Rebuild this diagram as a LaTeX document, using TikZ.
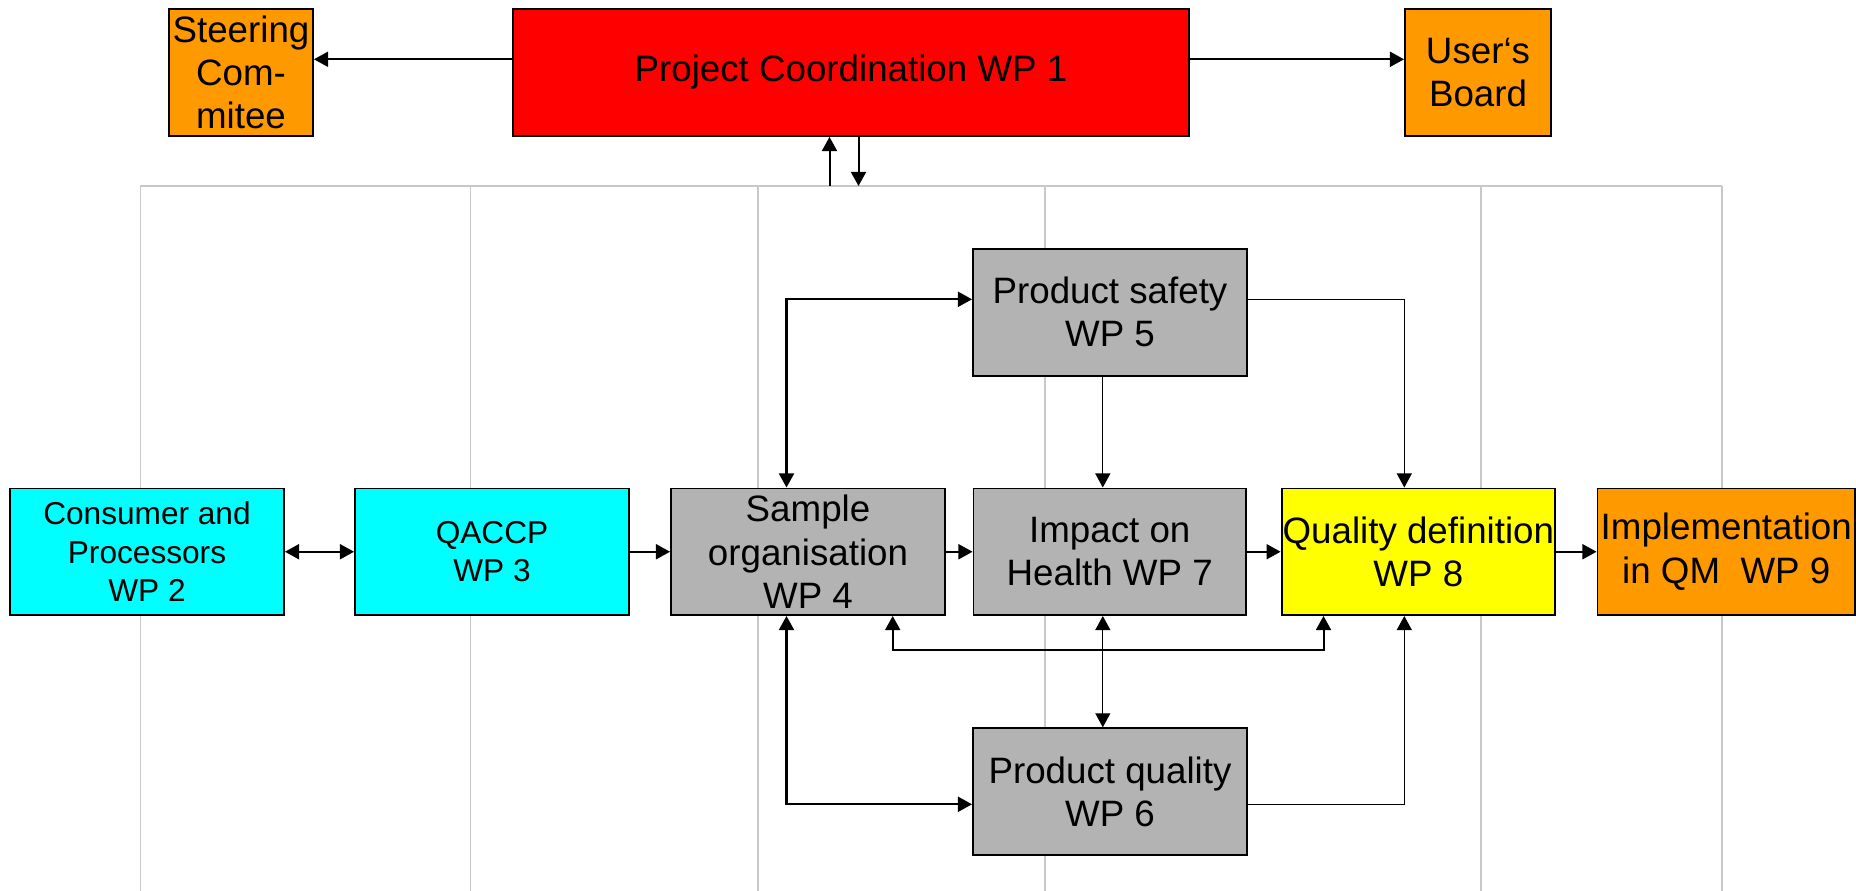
\documentclass[tikz,border=0pt]{standalone}
\usepackage{fontspec}
\setmainfont{Liberation Sans}
\usetikzlibrary{arrows.meta}
\definecolor{wporange}{RGB}{255,153,0}
\definecolor{wpgray}{RGB}{179,179,179}
\definecolor{wpcyan}{RGB}{0,255,255}
\definecolor{wpyellow}{RGB}{255,255,0}
\definecolor{wpred}{RGB}{255,0,0}
\definecolor{gridgray}{RGB}{200,200,200}
\begin{document}
\begin{tikzpicture}[>={Triangle[length=8pt,width=8.5pt]},
	wp/.style={draw=black, line width=1.1pt, inner sep=0pt, align=center, font=\fontsize{20.9}{24.6}\selectfont},
	wpsmall/.style={wp, font=\fontsize{18}{21.8}\selectfont},
	arr/.style={line width=1.15pt, ->},
	arrthin/.style={line width=0.75pt, ->},
	gridline/.style={gridgray, line width=0.9pt}]
	\useasboundingbox (0,0) rectangle (37.12,-17.82);

%grid
	\draw[gridline] (2.808,-3.72) -- (34.44,-3.72);
	\foreach \x in {2.808, 9.41, 15.156, 20.9, 29.62, 34.44}{
		\draw[gridline] (\x,-3.72) -- (\x,-17.82);
	}

%top row
	\node[wp, fill=wporange, minimum width=2.88cm, minimum height=2.54cm] (steer) at (4.82,-1.45) {Steering\\Com-\\mitee};
	\node[wp, fill=wpred, minimum width=13.52cm, minimum height=2.54cm] (coord) at (17.02,-1.45) {Project Coordination WP 1};
	\node[wp, fill=wporange, minimum width=2.92cm, minimum height=2.54cm] (users) at (29.56,-1.45) {User‘s\\Board};

%middle row
	\node[wpsmall, fill=wpcyan, minimum width=5.48cm, minimum height=2.53cm] (consumer) at (2.94,-11.035) {Consumer and\\Processors\\WP 2};
	\node[wpsmall, fill=wpcyan, minimum width=5.48cm, minimum height=2.53cm] (qaccp) at (9.84,-11.035) {QACCP\\WP 3};
	\node[wp, fill=wpgray, minimum width=5.48cm, minimum height=2.53cm] (sample) at (16.16,-11.035) {Sample\\organisation\\WP 4};
	\node[wp, fill=wpgray, minimum width=5.45cm, minimum height=2.53cm] (impact) at (22.195,-11.035) {Impact on\\Health WP 7};
	\node[wp, fill=wpyellow, minimum width=5.47cm, minimum height=2.53cm] (qualdef) at (28.367,-11.035) {Quality definition\\WP 8};
	\node[wp, fill=wporange, minimum width=5.15cm, minimum height=2.53cm] (implem) at (34.525,-11.035) {Implementation\\in QM~~WP 9};

%safety, quality
	\node[wp, fill=wpgray, minimum width=5.48cm, minimum height=2.54cm] (safety) at (22.2,-6.244) {Product safety\\WP 5};
	\node[wp, fill=wpgray, minimum width=5.48cm, minimum height=2.534cm] (prodqual) at (22.2,-15.833) {Product quality\\WP 6};

%link points
	\coordinate (toprow) at (0,-1.186);
	\coordinate (upline) at (16.59,-3.72);
	\coordinate (downline) at (17.17,-3.72);
	\coordinate (sflink) at (15.73,-5.986);
	\coordinate (pqlink) at (15.73,-16.086);
	\coordinate (qdx) at (28.086,0);
	\coordinate (midx) at (22.056,0);
	\coordinate (bus) at (17.854,-13.0);
	\coordinate (busend) at (26.47,-13.0);

%arrows top
	\draw[arr] (coord.west |- toprow) -- (steer.east |- toprow);
	\draw[arr] (coord.east |- toprow) -- (users.west |- toprow);
	\draw[arr] (upline) -- (upline |- coord.south);
	\draw[arr] (coord.south -| downline) -- (downline);

%arrows row
	\draw[arr, <->] (consumer.east) -- (qaccp.west);
	\draw[arr] (qaccp.east) -- (sample.west);
	\draw[arr] (sample.east) -- (impact.west);
	\draw[arr] (impact.east) -- (qualdef.west);
	\draw[arr] (qualdef.east) -- (implem.west);

%arrows up and down
	\draw[arr, <->] (sample.north -| sflink) -- (sflink) -- (safety.west |- sflink);
	\draw[arrthin] (safety.east |- sflink) -| (qdx |- qualdef.north);
	\draw[arrthin] (safety.south -| midx) -- (impact.north -| midx);
	\draw[arr, <->] (sample.south -| pqlink) -- (pqlink) -- (prodqual.west |- pqlink);
	\draw[arrthin] (prodqual.east |- pqlink) -| (qdx |- qualdef.south);
	\draw[arrthin, <->] (impact.south -| midx) -- (prodqual.north -| midx);
	\draw[arr, <->] (sample.south -| bus) |- (busend) -- (qualdef.south -| busend);

\end{tikzpicture}
\end{document}
